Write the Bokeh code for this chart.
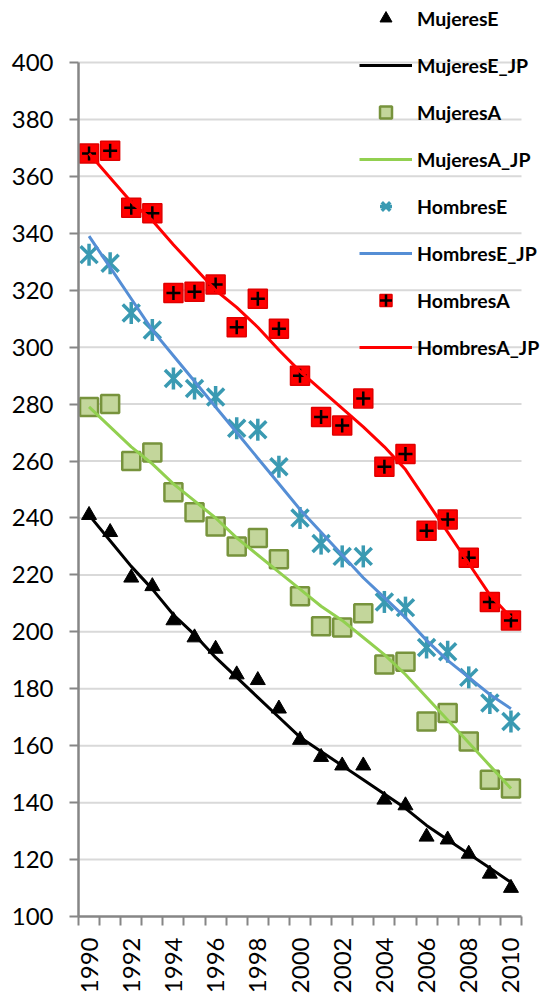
from math import pi
from bokeh.plotting import figure
from bokeh.models import Range1d, FixedTicker, Legend, LegendItem
from bokeh.embed import file_html
from bokeh.resources import INLINE

years = list(range(1990, 2011))

mujeresE = [241, 235, 219, 216, 204, 198, 194, 185, 183, 173, 162, 156, 153, 153, 141, 139, 128, 127, 122, 115, 110]
mujeresE_jp = [241, 232, 223, 215, 206, 199, 191, 184, 177, 170, 163, 158, 153, 148, 143, 138, 132, 127, 122, 117, 112]

mujeresA = [279, 280, 260, 263, 249, 242, 237, 230, 233, 225.5, 212.5, 202, 201.5, 206.5, 188.5, 189.5, 168.5, 171.5, 161.5, 148, 145]
mujeresA_jp = [279, 272, 265, 259, 252, 246, 240, 233, 227, 221, 215, 209, 204, 198, 192, 185, 177, 169, 161, 153, 145]

hombresE = [332.5, 329.5, 312, 306, 289, 285.5, 282.5, 271.5, 271, 258, 240, 231, 226.5, 226.5, 210.5, 208.5, 194.5, 193, 184, 175, 168.5]
hombresE_jp = [339, 328, 317, 306, 297, 288, 279, 270, 261, 252, 243, 235, 227, 219, 212, 205, 197, 190, 184, 178, 173]

hombresA = [368, 369, 349, 347, 319, 319.5, 322, 307, 317, 306.5, 290, 275.5, 272.5, 282, 258, 262.5, 235.5, 239.5, 226, 210.5, 204]
hombresA_jp = [368, 359.5, 351, 344.5, 336, 328, 320, 314, 307, 299, 291.5, 285, 278.5, 272, 265, 257, 246, 235, 224, 213, 205]

y_ticks = list(range(100, 401, 20))
x_label_years = list(range(1990, 2011, 2))
x_boundaries = [y - 0.5 for y in range(1990, 2012)]
x_start, x_end = x_boundaries[0], x_boundaries[-1]

FONT = "Lato"
AXIS_COLOR = "#868686"

p = figure(frame_width=463, frame_height=916,
           x_range=Range1d(1989.5, 2011.448), y_range=Range1d(100, 421.78),
           output_backend="svg", toolbar_location=None,
           min_border_left=78, min_border_top=0, min_border_right=0, min_border_bottom=74)
p.outline_line_color = None
p.background_fill_color = "white"

# axes
p.yaxis.bounds = (100, 400)
p.yaxis.ticker = FixedTicker(ticks=y_ticks)
p.yaxis.axis_line_color = AXIS_COLOR
p.yaxis.axis_line_width = 2.5
p.yaxis.major_tick_line_color = AXIS_COLOR
p.yaxis.major_tick_line_width = 2
p.yaxis.major_tick_out = 9
p.yaxis.major_tick_in = 0
p.yaxis.minor_tick_line_color = None
p.yaxis.major_label_standoff = 16
p.yaxis.major_label_text_font = FONT
p.yaxis.major_label_text_font_size = "24px"
p.yaxis.major_label_text_color = "black"

p.xaxis.bounds = (x_start, x_end)
p.xaxis.ticker = FixedTicker(ticks=x_label_years, minor_ticks=x_boundaries)
p.xaxis.axis_line_color = AXIS_COLOR
p.xaxis.axis_line_width = 2.5
p.xaxis.major_tick_line_color = None
p.xaxis.major_tick_out = 0
p.xaxis.major_tick_in = 0
p.xaxis.minor_tick_line_color = AXIS_COLOR
p.xaxis.minor_tick_line_width = 2
p.xaxis.minor_tick_out = 9
p.xaxis.minor_tick_in = 0
p.xaxis.major_label_orientation = pi / 2
p.xaxis.major_label_standoff = 12
p.xaxis.major_label_text_font = FONT
p.xaxis.major_label_text_font_size = "24px"
p.xaxis.major_label_text_color = "black"

# horizontal gridlines limited to the category span
p.xgrid.grid_line_color = None
p.ygrid.grid_line_color = None
grid_y = y_ticks[1:]
p.segment(x0=[x_start] * len(grid_y), x1=[x_end] * len(grid_y), y0=grid_y, y1=grid_y,
          line_color="#d9d9d9", line_width=2, level="underlay")

# series
r1 = p.scatter(years, mujeresE, marker="triangle", size=15, fill_color="black", line_color="black")
r2 = p.line(years, mujeresE_jp, line_color="black", line_width=3)
r3 = p.scatter(years, mujeresA, marker="square", size=18, fill_color="#c3d69b",
               line_color="#77933c", line_width=2.5)
r4 = p.line(years, mujeresA_jp, line_color="#92d050", line_width=3)
r5a = p.scatter(years, hombresE, marker="x", size=24, line_color="#3a9ab2", line_width=3.5)
r5b = p.scatter(years, hombresE, marker="dash", angle=pi / 2, size=22, line_color="#3a9ab2", line_width=3.5)
r6 = p.line(years, hombresE_jp, line_color="#558ed5", line_width=3)
r7a = p.scatter(years, hombresA, marker="square", size=19, fill_color="#ff0000", line_color="#e00000", line_width=1.5)
r7b = p.scatter(years, hombresA, marker="cross", size=14, line_color="black", line_width=2.5)
r8 = p.line(years, hombresA_jp, line_color="#ff0000", line_width=3)

legend = Legend(items=[
    LegendItem(label="MujeresE", renderers=[r1]),
    LegendItem(label="MujeresE_JP", renderers=[r2]),
    LegendItem(label="MujeresA", renderers=[r3]),
    LegendItem(label="MujeresA_JP", renderers=[r4]),
    LegendItem(label="HombresE", renderers=[r5a, r5b]),
    LegendItem(label="HombresE_JP", renderers=[r6]),
    LegendItem(label="HombresA", renderers=[r7a, r7b]),
    LegendItem(label="HombresA_JP", renderers=[r8]),
], location=(281, 554), orientation="vertical",
    glyph_width=53, glyph_height=30, label_height=30, spacing=17,
    padding=0, margin=0, label_standoff=5,
    label_text_font=FONT, label_text_font_style="bold", label_text_font_size="19.5px",
    label_text_color="black",
    border_line_alpha=0, background_fill_alpha=0)
p.add_layout(legend)

open("out.html", "w").write(file_html(p, INLINE))
